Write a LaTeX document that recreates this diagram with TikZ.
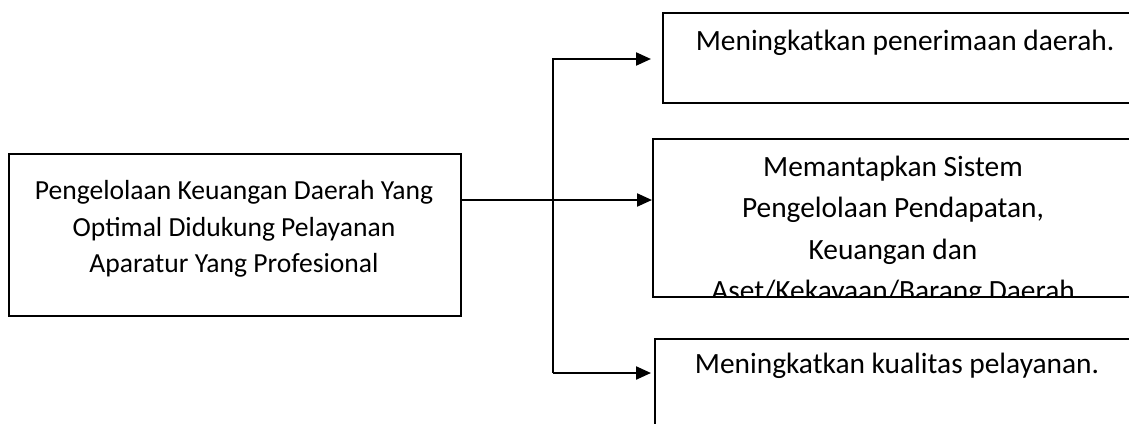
\documentclass[tikz,border=0pt]{standalone}
\usepackage{fontspec}
\setmainfont{Carlito}
\usetikzlibrary{arrows.meta}
\begin{document}
\begin{tikzpicture}[x=1pt,y=-1pt,
 box/.style={draw,line width=1.5pt,inner sep=0pt,anchor=north west},
 arr/.style={line width=2.2pt,-{Triangle[length=15pt,width=13pt]}},
 txt/.style={font=\fontsize{29.4}{37}\selectfont,align=center,inner sep=0pt}]
\useasboundingbox (0,0) rectangle (1129,423);
\clip (0,0) rectangle (1129,423);
% boxes
\node[box,minimum width=452pt,minimum height=162pt] (L) at (8,153) {};
\node[box,minimum width=520pt,minimum height=90pt] (T) at (662,12) {};
\node[box,minimum width=520pt,minimum height=158pt] (M) at (652,138) {};
\node[box,minimum width=520pt,minimum height=120pt] (B) at (654,338) {};
% texts
\node[txt,font=\fontsize{27.6}{36.5}\selectfont] (Lt) at (234,229) {Pengelolaan Keuangan Daerah Yang\\Optimal Didukung Pelayanan\\Aparatur Yang Profesional};
\node[txt] (Tt) at (905,43) {Meningkatkan penerimaan daerah.};
\node[txt] (Bt) at (897,366) {Meningkatkan kualitas pelayanan.};
\begin{scope}
\clip (M.north west) rectangle (M.south east);
\node[txt,font=\fontsize{29.4}{41.5}\selectfont] (Mt) at (893,231) {Memantapkan Sistem\\Pengelolaan Pendapatan,\\Keuangan dan\\Aset/Kekayaan/Barang Daerah};
\end{scope}
% connectors
\coordinate (ls) at (460,200);
\coordinate (em) at (652,200);
\coordinate (jt) at (553,59);
\coordinate (jb) at (553,373);
\coordinate (et) at (651,59);
\coordinate (eb) at (651,373);
\draw[arr] (ls) -- (em);
\draw[arr] (jb) -- (jt) -- (et);
\draw[arr] (jb) -- (eb);
\end{tikzpicture}
\end{document}
